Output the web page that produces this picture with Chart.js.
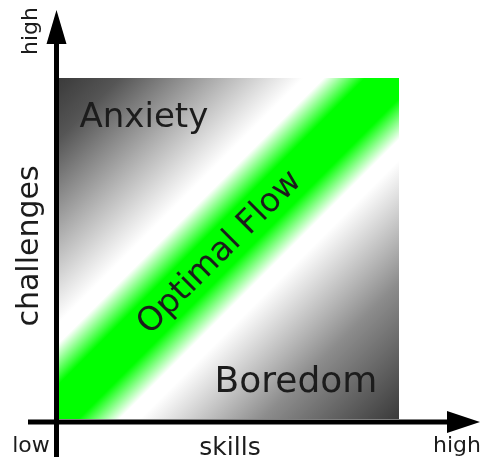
<!DOCTYPE html>
<html>
<head>
<meta charset="utf-8">
<script src="https://cdn.jsdelivr.net/npm/chart.js@4"></script>
<style>
  html, body { margin: 0; padding: 0; background: #fff; }
  #flowChart { display: block; }
</style>
</head>
<body>
<canvas id="flowChart" width="483" height="465"></canvas>
<script>
// zone labels placed in skill/challenge space (0 = low, 1 = high)
const zoneLabels = ['Anxiety', 'Optimal Flow', 'Boredom'];
const zoneSkill = [0.252, 0.475, 0.698];
const zoneChallenge = [0.883, 0.487, 0.106];
const zoneAngle = [0, -45, 0];

const axisTitles = ['skills', 'challenges'];
const tickLabels = ['low', 'high'];

const FONT = '"DejaVu Sans", sans-serif';
const INK = '#1c1c1c';

const flowBackground = {
  id: 'flowBackground',
  beforeDatasetsDraw(chart) {
    const { ctx, chartArea: a } = chart;
    const g = ctx.createLinearGradient(a.left, a.top, a.right, a.bottom);
    g.addColorStop(0, '#3a3a3a');
    g.addColorStop(0.09, '#555555');
    g.addColorStop(0.36, '#ffffff');
    g.addColorStop(0.39, '#ffffff');
    g.addColorStop(0.45, '#00ff00');
    g.addColorStop(0.53, '#00ff00');
    g.addColorStop(0.59, '#ffffff');
    g.addColorStop(0.62, '#ffffff');
    g.addColorStop(0.8, '#8c8c8c');
    g.addColorStop(1, '#3a3a3a');
    ctx.save();
    ctx.fillStyle = g;
    ctx.fillRect(a.left, a.top, a.right - a.left, a.bottom - a.top);
    ctx.restore();
  }
};

const zoneText = {
  id: 'zoneText',
  afterDatasetsDraw(chart) {
    const { ctx } = chart;
    const meta = chart.getDatasetMeta(0);
    const sizes = [34, 33, 36];
    ctx.save();
    ctx.fillStyle = INK;
    ctx.textAlign = 'center';
    ctx.textBaseline = 'middle';
    meta.data.forEach((pt, i) => {
      ctx.save();
      ctx.translate(pt.x, pt.y);
      ctx.rotate(zoneAngle[i] * Math.PI / 180);
      ctx.font = sizes[i] + 'px ' + FONT;
      ctx.fillText(zoneLabels[i], 0, 0);
      ctx.restore();
    });
    ctx.restore();
  }
};

const flowAxes = {
  id: 'flowAxes',
  afterDraw(chart) {
    const { ctx, chartArea: a } = chart;
    const ox = a.left - 1.5;
    const oy = a.bottom + 3;
    ctx.save();
    ctx.strokeStyle = '#000';
    ctx.fillStyle = '#000';
    ctx.lineWidth = 5;

    // vertical axis
    ctx.beginPath();
    ctx.moveTo(ox, oy + 35);
    ctx.lineTo(ox, 40);
    ctx.stroke();
    ctx.beginPath();
    ctx.moveTo(ox, 10);
    ctx.lineTo(ox - 10, 44);
    ctx.lineTo(ox + 10, 44);
    ctx.closePath();
    ctx.fill();

    // horizontal axis
    ctx.beginPath();
    ctx.moveTo(28, oy);
    ctx.lineTo(452, oy);
    ctx.stroke();
    ctx.beginPath();
    ctx.moveTo(480, oy);
    ctx.lineTo(447, oy - 11);
    ctx.lineTo(447, oy + 11);
    ctx.closePath();
    ctx.fill();

    ctx.fillStyle = INK;
    ctx.textBaseline = 'alphabetic';

    // x axis
    ctx.font = '22px ' + FONT;
    ctx.textAlign = 'center';
    ctx.fillText(tickLabels[0], 31, 452);
    ctx.fillText(tickLabels[1], 457, 452);
    ctx.font = '25px ' + FONT;
    ctx.fillText(axisTitles[0], 230, 455);

    // y axis
    ctx.save();
    ctx.translate(37, 31);
    ctx.rotate(-Math.PI / 2);
    ctx.font = '22px ' + FONT;
    ctx.fillText(tickLabels[1], 0, 0);
    ctx.restore();

    ctx.save();
    ctx.translate(38, 246);
    ctx.rotate(-Math.PI / 2);
    ctx.font = '30px ' + FONT;
    ctx.fillText(axisTitles[1], 0, 0);
    ctx.restore();

    ctx.restore();
  }
};

new Chart(document.getElementById('flowChart'), {
  type: 'scatter',
  data: {
    datasets: [{
      label: 'zones',
      data: zoneLabels.map((_, i) => ({ x: zoneSkill[i], y: zoneChallenge[i] })),
      pointRadius: 0,
      pointHoverRadius: 0
    }]
  },
  options: {
    responsive: false,
    animation: false,
    layout: { padding: { left: 58, right: 84, top: 78, bottom: 46 } },
    scales: {
      x: { type: 'linear', min: 0, max: 1, display: false },
      y: { type: 'linear', min: 0, max: 1, display: false }
    },
    plugins: {
      legend: { display: false },
      tooltip: { enabled: false }
    }
  },
  plugins: [flowBackground, zoneText, flowAxes]
});
</script>
</body>
</html>
